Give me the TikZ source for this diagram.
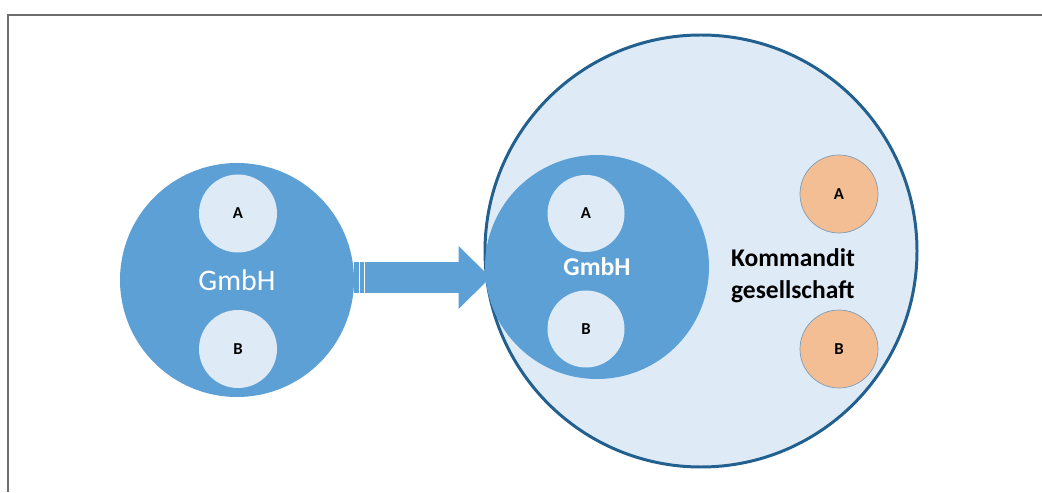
\documentclass[tikz,border=0pt]{standalone}
\usepackage{fontspec}
\setmainfont{Carlito}
\usepackage{tikz}
\usetikzlibrary{calc,arrows.meta}
\definecolor{frame}{HTML}{6E6E6E}
\definecolor{firm}{HTML}{5DA0D6}
\definecolor{pale}{HTML}{DEEBF7}
\definecolor{deep}{HTML}{22608F}
\definecolor{peach}{HTML}{F3BE93}
\definecolor{rim}{HTML}{7E9DB8}
\tikzset{
  border/.style={draw=frame, line width=1.4pt},
  outer/.style={circle, fill=pale, draw=deep, line width=1.7pt, inner sep=0pt},
  firmdisc/.style={circle, fill=firm, inner sep=0pt},
  member/.style={circle, fill=pale, inner sep=0pt, minimum size=1.56cm,
    font=\fontsize{9.5}{11}\selectfont\bfseries},
  partner/.style={member, fill=peach, draw=rim, line width=0.4pt},
  flow/.style={draw=firm, line width=0.62cm,
    -{Triangle[length=0.64cm, width=1.26cm, line width=0pt]}, shorten >=-0.14cm}
}
\begin{document}
\begin{tikzpicture}[line cap=butt, every node/.style={font=\small}]
  \useasboundingbox (0,0) rectangle (20.84,9.84);
  % frame (only top and left edge are visible)
  \draw[border] (0.16,0) -- (0.16,9.54) -- (20.84,9.54);
  % company before the change
  \node[firmdisc, minimum size=4.68cm] (gmbhL) at (4.74,4.24) {};
  \node[text=white, font=\fontsize{17}{20}\selectfont] (gmbhLt) at (gmbhL) {GmbH};
  \node[member] (aL) at (4.76,5.57) {A};
  \node[member] (bL) at (4.76,2.86) {B};
  % limited partnership
  \node[outer, minimum size=8.64cm] (kg) at (14.02,4.82) {};
  \coordinate (arrS) at ($(gmbhL.east)+(0,0.05)$);
  \draw[flow] (arrS) -- (arrS -| kg.west);
  \draw[white, line width=0.6pt] ($(arrS)+(0.1,-0.31)$) -- ++(0,0.62)
    ($(arrS)+(0.2,-0.31)$) -- ++(0,0.62);
  \node[firmdisc, minimum size=4.48cm] (gmbhR) at (11.94,4.50) {};
  \node[text=white, font=\fontsize{14.6}{17}\selectfont\bfseries] (gmbhRt) at (gmbhR) {GmbH};
  \node[member, minimum size=1.54cm] (aR) at (11.72,5.57) {A};
  \node[member, minimum size=1.54cm] (bR) at (11.72,3.26) {B};
  \node[align=left, font=\fontsize{14.5}{18}\selectfont\bfseries] (kgt) at (15.86,4.32)
    {Kommandit\\gesellschaft};
  \node[partner] (aK) at (16.78,5.96) {A};
  \node[partner] (bK) at (16.78,2.86) {B};
\end{tikzpicture}
\end{document}
